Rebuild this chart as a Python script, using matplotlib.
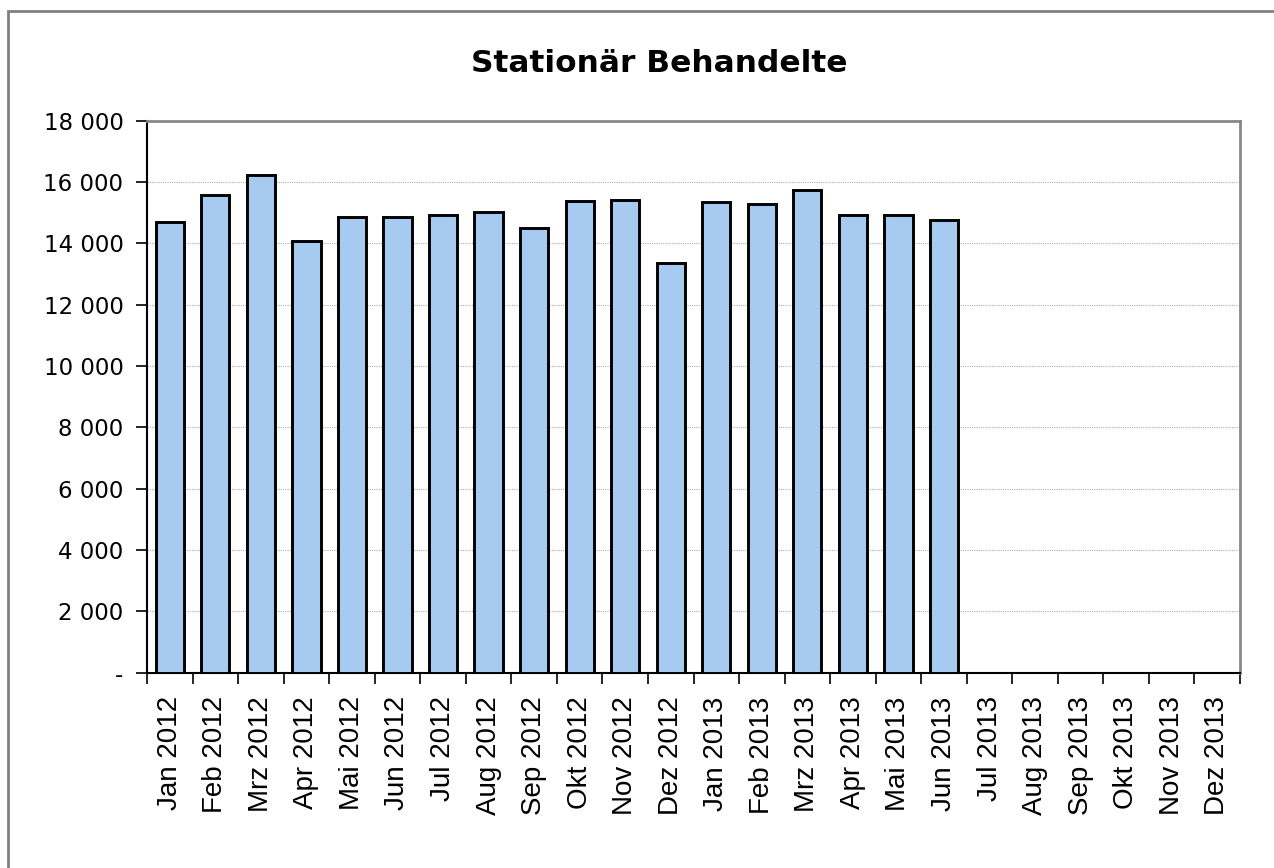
import numpy as np
import matplotlib
matplotlib.use('Agg')
import matplotlib.pyplot as plt
from matplotlib.patches import Rectangle
from matplotlib.ticker import FuncFormatter, MultipleLocator

months = ['Jan 2012', 'Feb 2012', 'Mrz 2012', 'Apr 2012', 'Mai 2012', 'Jun 2012',
          'Jul 2012', 'Aug 2012', 'Sep 2012', 'Okt 2012', 'Nov 2012', 'Dez 2012',
          'Jan 2013', 'Feb 2013', 'Mrz 2013', 'Apr 2013', 'Mai 2013', 'Jun 2013',
          'Jul 2013', 'Aug 2013', 'Sep 2013', 'Okt 2013', 'Nov 2013', 'Dez 2013']
# values only known up to Jun 2013
patients = [14690, 15580, 16230, 14080, 14840, 14860,
            14920, 15020, 14500, 15390, 15410, 13370,
            15330, 15270, 15750, 14920, 14920, 14760]

title = 'Stationär Behandelte'

fig = plt.figure(figsize=(12.74, 8.68), dpi=100)
ax = fig.add_axes([147/1274, 1 - 672.7/868, (1240-147)/1274, (672.7-120.5)/868])

x = np.arange(len(patients))
ax.bar(x, patients, width=0.62, color='#A6CAF0', edgecolor='black', linewidth=2.1, zorder=3)

ax.set_xlim(-0.5, len(months) - 0.5)
ax.set_ylim(0, 18000)

# y axis
ax.yaxis.set_major_locator(MultipleLocator(2000))
ax.yaxis.set_major_formatter(FuncFormatter(
    lambda v, p: '-' if v == 0 else '{:,.0f}'.format(v).replace(',', ' ')))
ax.tick_params(axis='y', which='major', direction='out', length=8, width=1.2,
               pad=9, labelsize=16.5)
ax.grid(axis='y', color='#b0b0b0', linestyle=(0, (1, 1)), linewidth=0.8, zorder=0)

# x axis: labels centred, tick marks on category boundaries
ax.set_xticks(np.arange(len(months)))
ax.set_xticklabels(months, rotation=90)
ax.set_xticks(np.arange(len(months) + 1) - 0.5, minor=True)
ax.tick_params(axis='x', which='major', length=0, pad=17)
ax.tick_params(axis='x', which='minor', direction='out', length=8, width=1.2)
for lab in ax.get_xticklabels():
    lab.set_fontfamily('Liberation Sans')
    lab.set_fontsize(20)

for side in ['left', 'bottom']:
    ax.spines[side].set_color('black')
    ax.spines[side].set_linewidth(1.5)
for side in ['top', 'right']:
    ax.spines[side].set_color('#888888')
    ax.spines[side].set_linewidth(2)

fig.text(659/1274, 1 - 63/868, title, ha='center', va='center',
         fontsize=22.5, fontweight='bold', family='DejaVu Sans')

# outer chart frame (right/bottom edges lie outside the picture)
fig.patches.append(Rectangle((8/1274, -0.1), 1.2, 1 - 11/868 + 0.1,
                             transform=fig.transFigure, fill=False,
                             edgecolor='#808080', linewidth=2))

fig.savefig('out.png', dpi=100)
